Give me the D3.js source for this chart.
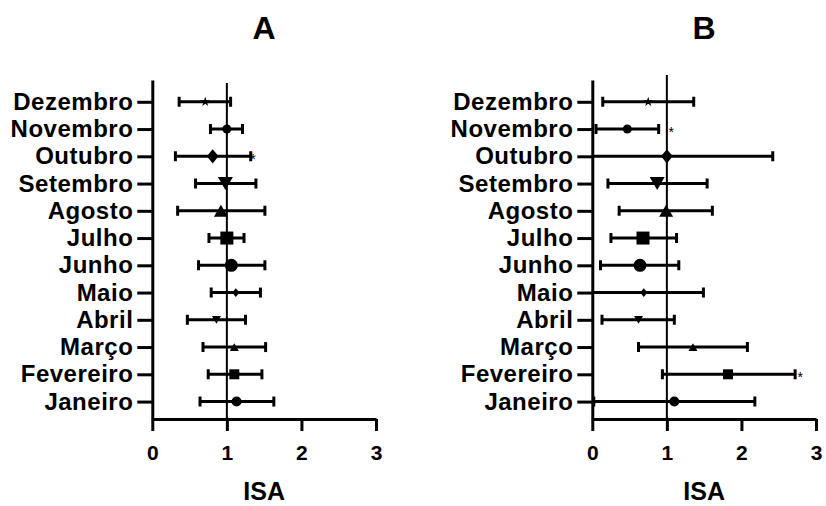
<!DOCTYPE html>
<html>
<head>
<meta charset="utf-8">
<script src="https://cdn.jsdelivr.net/npm/d3@7"></script>
<style>
  body { margin: 0; background: #fff; }
  text { font-family: "Liberation Sans", Arial, sans-serif; font-weight: bold; fill: #000; }
</style>
</head>
<body>
<div id="chart"></div>
<script>
// months, bottom row first
var months = ["Janeiro", "Fevereiro", "Março", "Abril", "Maio", "Junho",
              "Julho", "Agosto", "Setembro", "Outubro", "Novembro", "Dezembro"];

// panel A
var isaA  = [1.13, 1.10, 1.10, 0.86, 1.12, 1.06, 1.00, 0.92, 0.98, 0.81, 1.00, 0.71];
var lowA  = [0.64, 0.75, 0.68, 0.47, 0.79, 0.62, 0.76, 0.34, 0.58, 0.31, 0.78, 0.36];
var highA = [1.63, 1.47, 1.52, 1.25, 1.45, 1.51, 1.23, 1.51, 1.39, 1.32, 1.21, 1.05];
var starsA = [{month: "Outubro", at: 1.35}];

// panel B
var isaB  = [1.10, 1.82, 1.35, 0.62, 0.69, 0.64, 0.68, 0.99, 0.87, 1.00, 0.47, 0.75];
var lowB  = [0.02, 0.94, 0.62, 0.13, -0.20, 0.11, 0.25, 0.36, 0.21, -0.20, 0.05, 0.14];
var highB = [2.18, 2.72, 2.08, 1.10, 1.49, 1.16, 1.13, 1.61, 1.54, 2.42, 0.89, 1.36];
var starsB = [{month: "Novembro", at: 1.06}, {month: "Fevereiro", at: 2.79}];

var xTicks = [0, 1, 2, 3];

// marker per month (shape, size in px)
var markers = [
  ["circle", 10], ["square", 10], ["triUp", 9], ["triDown", 9], ["diamond", 8], ["circle", 13],
  ["square", 13], ["triUp", 14], ["triDown", 15], ["diamond", 13], ["circle", 9], ["star", 7]
];

var W = 826, H = 506;

var svg = d3.select("#chart").append("svg")
    .attr("width", W)
    .attr("height", H);

var y = d3.scaleLinear().domain([-0.64, 11.8]).range([419, 80]);

function markerPath(shape, s) {
  if (shape == "circle") return d3.symbol(d3.symbolCircle, Math.PI * s * s / 4)();
  if (shape == "square") return d3.symbol(d3.symbolSquare, s * s)();
  if (shape == "star") return d3.symbol(d3.symbolStar, s * s * 0.6)();
  if (shape == "diamond") {
    var w = s * 0.45, h = s * 0.55;
    return "M0," + (-h) + "L" + w + ",0L0," + h + "L" + (-w) + ",0Z";
  }
  var h2 = s * 0.866 / 2, w2 = s / 2;
  if (shape == "triUp") return "M0," + (-h2) + "L" + w2 + "," + h2 + "L" + (-w2) + "," + h2 + "Z";
  return "M0," + h2 + "L" + w2 + "," + (-h2) + "L" + (-w2) + "," + (-h2) + "Z";
}

function drawPanel(id, x0, title, isa, low, high, stars, refTop) {
  var x = d3.scaleLinear().domain([0, 3]).range([x0, x0 + 223.7]);
  var g = svg.append("g").attr("class", "panel-" + id);

  var rows = months.map(function(m, i) {
    return {month: m, i: i, isa: isa[i], low: low[i], high: high[i]};
  });

  // clip so bars below 0 stop at the axis
  g.append("clipPath").attr("id", "clip-" + id)
    .append("rect")
      .attr("x", x(0)).attr("y", 60)
      .attr("width", x(3) - x(0) + 10).attr("height", 370);

  // reference line at 1
  g.append("line")
    .attr("x1", x(1)).attr("x2", x(1))
    .attr("y1", refTop).attr("y2", y.range()[0])
    .attr("stroke", "#000").attr("stroke-width", 2);

  var bars = g.append("g").attr("clip-path", "url(#clip-" + id + ")")
    .selectAll("g.bar").data(rows).enter().append("g").attr("class", "bar");

  bars.append("line")
    .attr("x1", d => x(d.low)).attr("x2", d => x(d.high))
    .attr("y1", d => y(d.i)).attr("y2", d => y(d.i))
    .attr("stroke", "#000").attr("stroke-width", 3);
  // caps
  bars.selectAll("line.cap")
    .data(d => [{v: d.low, i: d.i}, {v: d.high, i: d.i}])
    .enter().append("line").attr("class", "cap")
    .attr("x1", d => x(d.v)).attr("x2", d => x(d.v))
    .attr("y1", d => y(d.i) - 5).attr("y2", d => y(d.i) + 5)
    .attr("stroke", "#000").attr("stroke-width", 3);

  g.selectAll("path.marker").data(rows).enter().append("path")
    .attr("class", "marker")
    .attr("transform", d => "translate(" + x(d.isa) + "," + y(d.i) + ")")
    .attr("d", d => markerPath(markers[d.i][0], markers[d.i][1]))
    .attr("fill", "#000");

  // significance asterisks
  g.selectAll("text.sig").data(stars).enter().append("text")
    .attr("class", "sig")
    .attr("x", d => x(d.at))
    .attr("y", d => y(months.indexOf(d.month)) + 8)
    .attr("text-anchor", "middle")
    .style("font-size", "14px")
    .style("font-weight", "normal")
    .text("*");

  // y axis
  var ya = g.append("g")
    .attr("transform", "translate(" + x0 + ",0)")
    .call(d3.axisLeft(y).tickValues(d3.range(12)).tickFormat(i => months[i])
      .tickSize(15).tickSizeOuter(0).tickPadding(4));
  ya.selectAll("path, line").attr("stroke", "#000").attr("stroke-width", 3);
  ya.selectAll("text").style("font-size", "24px").style("letter-spacing", "0.5px")
    .attr("fill", "#000").attr("font-family", null);

  // x axis
  var xa = g.append("g")
    .attr("transform", "translate(0," + y.range()[0] + ")")
    .call(d3.axisBottom(x).tickValues(xTicks).tickFormat(d3.format("d"))
      .tickSize(12).tickSizeOuter(0).tickPadding(14));
  xa.selectAll("path, line").attr("stroke", "#000").attr("stroke-width", 3);
  xa.selectAll("text").style("font-size", "21px").attr("fill", "#000").attr("font-family", null);

  g.append("text")
    .attr("x", x(1.5)).attr("y", 500)
    .attr("text-anchor", "middle")
    .style("font-size", "25px")
    .text("ISA");

  g.append("text")
    .attr("x", x(1.5)).attr("y", 39)
    .attr("text-anchor", "middle")
    .style("font-size", "32px")
    .text(title);
}

drawPanel("a", 152.3, "A", isaA, lowA, highA, starsA, 83);
drawPanel("b", 592.3, "B", isaB, lowB, highB, starsB, 75);
</script>
</body>
</html>
